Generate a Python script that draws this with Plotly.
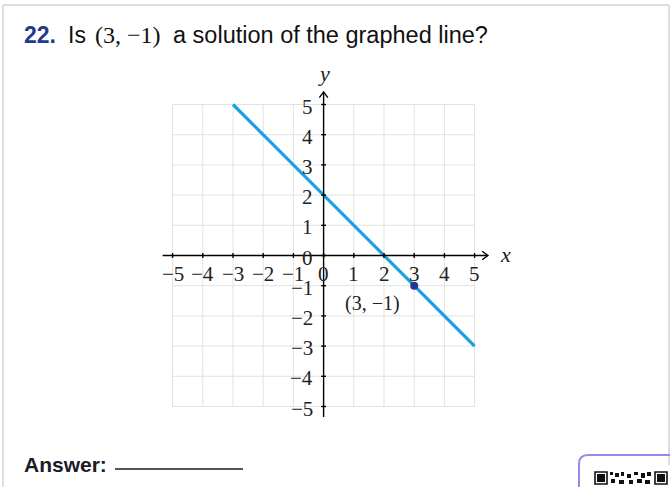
import plotly.graph_objects as go

# data
ticks = [-5, -4, -3, -2, -1, 0, 1, 2, 3, 4, 5]
line_x = [-3, 5]
line_y = [5, -3]
point_x = [3]
point_y = [-1]
point_label = "(3, \u22121)"

W, H = 670, 487
UNIT = 30.2           # pixels per unit
X0, Y0 = 323.6, 255.5  # pixel position of origin

MATH = "Liberation Serif"
SANS = "Liberation Sans"
INK = "#222222"


def px(x):
    return x / W


def py(y):
    return 1 - y / H


def fmt(t):
    return str(t) if t >= 0 else "\u2212" + str(-t)


fig = go.Figure()

shapes = []
# grid
for t in ticks:
    shapes.append(dict(type="line", x0=t, x1=t, y0=ticks[0], y1=ticks[-1],
                       line=dict(color="#e2e2e2", width=1), layer="below"))
    shapes.append(dict(type="line", y0=t, y1=t, x0=ticks[0], x1=ticks[-1],
                       line=dict(color="#e2e2e2", width=1), layer="below"))

# axes
ax = dict(color="black", width=1.4)
shapes.append(dict(type="line", x0=-5.33, x1=5.44, y0=0, y1=0, line=ax))
shapes.append(dict(type="line", x0=0, x1=0, y0=-5.35, y1=5.42, line=ax))
shapes.append(dict(type="path", path="M 5.25 0.14 L 5.44 0 L 5.25 -0.14", line=ax))
shapes.append(dict(type="path", path="M -0.14 5.23 L 0 5.42 L 0.14 5.23", line=ax))
for t in ticks:
    shapes.append(dict(type="line", x0=t, x1=t, y0=-0.08, y1=0.08, line=ax))
    shapes.append(dict(type="line", y0=t, y1=t, x0=-0.08, x1=0.08, line=ax))

# page frame, answer line, qr box
frame = dict(color="#cfd5dd", width=1.5)
shapes.append(dict(type="line", xref="paper", yref="paper", x0=px(3), x1=px(669),
                   y0=py(5), y1=py(5), line=frame))
shapes.append(dict(type="line", xref="paper", yref="paper", x0=px(3), x1=px(3),
                   y0=py(5), y1=py(490), line=frame))
shapes.append(dict(type="line", xref="paper", yref="paper", x0=px(669), x1=px(669),
                   y0=py(5), y1=py(465), line=frame))
shapes.append(dict(type="line", xref="paper", yref="paper", x0=px(115), x1=px(243),
                   y0=py(469), y1=py(469), line=dict(color="#1b1b2a", width=1.5)))
shapes.append(dict(type="path", xref="paper", yref="paper",
                   path="M {} {} L {} {} Q {} {} {} {} L {} {}".format(
                       px(579), py(500), px(579), py(464), px(579), py(455),
                       px(588), py(455), px(680), py(455)),
                   line=dict(color="#9b86ee", width=2)))
qr = [(595, 472, 607, 484, False), (597, 474, 605, 482, True),
      (655, 472, 667, 484, False), (657, 474, 665, 482, True),
      (610, 472, 613, 475, True), (615, 473, 619, 477, True), (621, 472, 624, 476, True),
      (627, 474, 631, 478, True), (634, 472, 638, 475, True), (641, 473, 645, 478, True),
      (647, 472, 651, 476, True), (611, 479, 615, 483, True), (619, 480, 624, 484, True),
      (629, 480, 633, 484, True), (637, 479, 642, 483, True), (645, 480, 650, 484, True)]
for x0, y0, x1, y1, fill in qr:
    shapes.append(dict(type="rect", xref="paper", yref="paper", x0=px(x0), x1=px(x1),
                       y0=py(y0), y1=py(y1),
                       line=dict(color="#111", width=0 if fill else 1.6),
                       fillcolor="#111" if fill else "rgba(0,0,0,0)"))

fig.add_trace(go.Scatter(x=line_x, y=line_y, mode="lines",
                         line=dict(color="#1aa1e0", width=3.2), hoverinfo="skip"))
fig.add_trace(go.Scatter(x=point_x, y=point_y, mode="markers",
                         marker=dict(color="#1f3a8e", size=8), hoverinfo="skip"))

ann = []
for t in ticks:
    ann.append(dict(x=t, y=-0.61, text=fmt(t), showarrow=False,
                    font=dict(family=MATH, size=21, color=INK)))
    ann.append(dict(x=-0.3, y=t, text=fmt(t), xanchor="right", yshift=-2, showarrow=False,
                    font=dict(family=MATH, size=21, color=INK)))
ann.append(dict(x=6.02, y=0.03, text="<i>x</i>", showarrow=False,
                font=dict(family=MATH, size=22, color=INK)))
ann.append(dict(x=0, y=6.04, text="<i>y</i>", showarrow=False,
                font=dict(family=MATH, size=22, color=INK)))
ann.append(dict(x=point_x[0] - 1.38, y=point_y[0] - 0.59, text=point_label, showarrow=False,
                font=dict(family=MATH, size=20, color=INK)))

# title pieces
title_y = py(35)
ann.append(dict(xref="paper", yref="paper", x=px(22), y=title_y, xanchor="left",
                yanchor="middle", text="<b>22.</b>", showarrow=False,
                font=dict(family=SANS, size=23, color="#1f3a8e")))
ann.append(dict(xref="paper", yref="paper", x=px(66), y=title_y, xanchor="left",
                yanchor="middle", text="Is", showarrow=False,
                font=dict(family=SANS, size=23, color="#111")))
ann.append(dict(xref="paper", yref="paper", x=px(93), y=title_y, xanchor="left",
                yanchor="middle", text=point_label, showarrow=False,
                font=dict(family=MATH, size=24, color="#111")))
ann.append(dict(xref="paper", yref="paper", x=px(171), y=title_y, xanchor="left",
                yanchor="middle", text="a solution of the graphed line?", showarrow=False,
                font=dict(family=SANS, size=23.5, color="#111")))
ann.append(dict(xref="paper", yref="paper", x=px(22), y=py(464), xanchor="left",
                yanchor="middle", text="<b>Answer:</b>", showarrow=False,
                font=dict(family=SANS, size=21, color="#1b1b2a")))

fig.update_layout(
    width=W, height=H,
    margin=dict(l=0, r=0, t=0, b=0),
    paper_bgcolor="white", plot_bgcolor="white",
    showlegend=False,
    xaxis=dict(range=[-X0 / UNIT, (W - X0) / UNIT], visible=False, fixedrange=True),
    yaxis=dict(range=[-(H - Y0) / UNIT, Y0 / UNIT], visible=False, fixedrange=True),
    shapes=shapes,
    annotations=ann,
)

fig.write_html("out.html", config={"displayModeBar": False},
               post_script="document.body.style.margin='0';")
